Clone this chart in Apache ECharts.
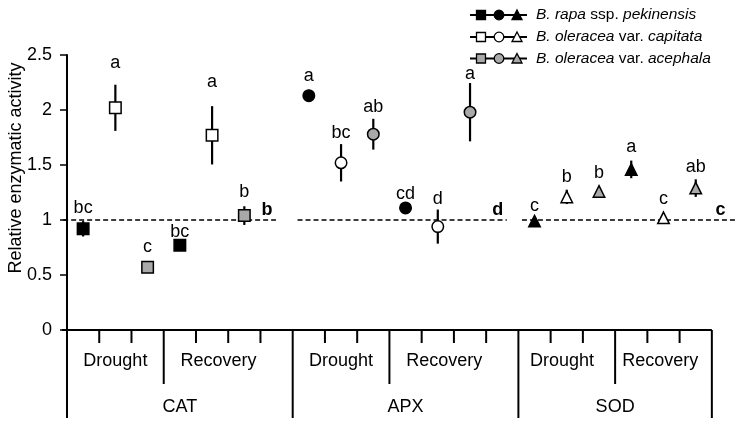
<!DOCTYPE html>
<html>
<head>
<meta charset="utf-8">
<script src="https://cdn.jsdelivr.net/npm/echarts@6/dist/echarts.min.js"></script>
<style>
html,body{margin:0;padding:0;background:#fff;}
#chart{width:737px;height:427px;}
</style>
</head>
<body>
<div id="chart"></div>
<script>
// ---- data ----
const enzymes = ['CAT', 'APX', 'SOD'];
const conditions = ['Drought', 'Recovery'];
const species = ['B. rapa ssp. pekinensis', 'B. oleracea var. capitata', 'B. oleracea var. acephala'];
// group order: CAT-Drought, CAT-Recovery, APX-Drought, APX-Recovery, SOD-Drought, SOD-Recovery
const groupStartSlot = [0, 3, 7, 10, 14, 17];
const rapaMean = [0.92, 0.77, 2.13, 1.11, 0.99, 1.46];
const rapaErr = [0.07, 0.02, 0.055, 0.02, 0.02, 0.08];
const capitataMean = [2.02, 1.77, 1.52, 0.94, 1.21, 1.02];
const capitataErr = [0.21, 0.265, 0.17, 0.155, 0.065, 0.02];
const acephalaMean = [0.57, 1.04, 1.78, 1.98, 1.26, 1.29];
const acephalaErr = [0.02, 0.085, 0.14, 0.265, 0.02, 0.08];
const rapaLetters = ['bc', 'bc', 'a', 'cd', 'c', 'a'];
const capitataLetters = ['a', 'a', 'bc', 'd', 'b', 'c'];
const acephalaLetters = ['c', 'b', 'ab', 'a', 'b', 'ab'];
const rapaLetterAt = [1.11, 0.89, 2.31, 1.24, 1.13, 1.66];
const capitataLetterAt = [2.43, 2.25, 1.79, 1.19, 1.39, 1.19];
const acephalaLetterAt = [0.75, 1.25, 2.03, 2.33, 1.43, 1.48];
const controlLetters = ['b', 'd', 'c'];
const controlLetterSlot = [6.2, 13.36, 20.27];
const controlLineSpans = [[-0.12, 6.48], [7.15, 13.64], [14.11, 20.78]];
const slotTicks = [1, 2, 4, 5, 6, 8, 9, 11, 12, 13, 15, 16, 18, 19];
const conditionDividers = [3, 10, 17];
const enzymeDividers = [0, 7, 14, 20];
const conditionLabelSlot = [1.5, 4.7, 8.5, 11.7, 15.35, 18.4];
const enzymeLabelSlot = [3.5, 10.5, 17.0];
const yTicks = [0, 0.5, 1, 1.5, 2, 2.5];

const FONT = '"Liberation Sans", Arial, Helvetica, sans-serif';
const symbols = ['rect', 'circle', 'triangle'];
const sizes = [11.5, 11.5, 11.5];
const fills = ['#000000', '#ffffff', '#a9a9a9'];

const means = [rapaMean, capitataMean, acephalaMean];
const errs = [rapaErr, capitataErr, acephalaErr];
const letters = [rapaLetters, capitataLetters, acephalaLetters];
const letterAt = [rapaLetterAt, capitataLetterAt, acephalaLetterAt];

const errData = [];
const letterData = [];
const scatterSeries = [];
means.forEach((m, s) => {
  const pts = [];
  m.forEach((v, g) => {
    const x = groupStartSlot[g] + s + 0.5;
    const enz = Math.floor(g / 2);
    errData.push([x, v, errs[s][g]]);
    letterData.push([x, letterAt[s][g], letters[s][g]]);
    pts.push({ value: [x, v], symbol: symbols[enz], symbolSize: sizes[enz] });
  });
  scatterSeries.push({
    type: 'scatter', name: species[s], data: pts, z: 5,
    itemStyle: { color: fills[s], borderColor: '#000', borderWidth: 1.5, opacity: 1 },
    emphasis: { disabled: true }, animation: false
  });
});

// structural line data: [x, 0, kind]  kind 0 tick, 1 condition divider, 2 enzyme divider
const structData = [];
slotTicks.forEach(x => structData.push([x, 0, 0]));
conditionDividers.forEach(x => structData.push([x, 0, 1]));
enzymeDividers.forEach(x => structData.push([x, 0, 2]));

const textData = [];
conditionLabelSlot.forEach((x, i) => textData.push([x, 0, conditions[i % 2], 0]));
enzymeLabelSlot.forEach((x, i) => textData.push([x, 0, enzymes[i], 1]));

const chart = echarts.init(document.getElementById('chart'), null, { renderer: 'canvas' });

function legendRow(y, fill, label) {
  const x0 = 470, x1 = 527;
  return [
    { type: 'line', shape: { x1: x0, y1: y, x2: x1, y2: y }, style: { stroke: '#000', lineWidth: 2 } },
    { type: 'rect', shape: { x: 481 - 4.5, y: y - 4.5, width: 9, height: 9 }, style: { fill: fill, stroke: '#000', lineWidth: 1.3 } },
    { type: 'circle', shape: { cx: 499, cy: y, r: 4.8 }, style: { fill: fill, stroke: '#000', lineWidth: 1.3 } },
    { type: 'polygon', shape: { points: [[517, y - 5], [522, y + 4.5], [512, y + 4.5]] }, style: { fill: fill, stroke: '#000', lineWidth: 1.3 } },
    { type: 'text', x: 536, y: y, style: { text: label, fill: '#000', fontSize: 15.5, fontFamily: FONT, verticalAlign: 'middle', align: 'left',
      rich: { i: { fontStyle: 'italic', fontSize: 15.5, fontFamily: FONT, fill: '#000' }, n: { fontSize: 15.5, fontFamily: FONT, fill: '#000' } } } }
  ];
}

const option = {
  backgroundColor: '#ffffff',
  animation: false,
  grid: { left: 67, right: 0, top: 55, bottom: 97, containLabel: false },
  xAxis: {
    type: 'value', min: 0, max: 20.78,
    axisLine: { show: false }, axisTick: { show: false }, axisLabel: { show: false }, splitLine: { show: false }
  },
  yAxis: {
    type: 'value', min: 0, max: 2.5, interval: 0.5,
    axisLine: { show: true, lineStyle: { color: '#000', width: 2 } },
    axisTick: { show: true, inside: false, length: 7, lineStyle: { color: '#000', width: 1.5 } },
    axisLabel: { color: '#000', fontSize: 18, fontFamily: FONT, margin: 15,
      formatter: v => (yTicks.indexOf(v) >= 0 ? String(v) : '') },
    splitLine: { show: false }
  },
  graphic: [
    { type: 'text', x: 16, y: 168, rotation: Math.PI / 2,
      style: { text: 'Relative enzymatic activity', fill: '#000', fontSize: 18, fontFamily: FONT, align: 'center', verticalAlign: 'middle' } },
    ...legendRow(15, '#000000', '{i|B. rapa}{n| ssp. }{i|pekinensis}'),
    ...legendRow(37, '#ffffff', '{i|B. oleracea}{n| var. }{i|capitata}'),
    ...legendRow(58.5, '#a9a9a9', '{i|B. oleracea}{n| var. }{i|acephala}')
  ],
  series: [
    // control reference lines
    {
      type: 'custom', clip: false, silent: true, z: 1,
      data: controlLineSpans.map(s => [s[0], 1, s[1]]),
      renderItem: (params, api) => {
        const a = api.coord([api.value(0), api.value(1)]);
        const b = api.coord([api.value(2), api.value(1)]);
        return { type: 'line', shape: { x1: a[0], y1: a[1], x2: b[0], y2: b[1] },
          style: { stroke: '#000', lineWidth: 1.4, lineDash: [5, 3] } };
      }
    },
    // control letters
    {
      type: 'custom', clip: false, silent: true, z: 6,
      data: controlLetters.map((t, i) => [controlLetterSlot[i], 1, t]),
      renderItem: (params, api) => {
        const p = api.coord([api.value(0), api.value(1)]);
        return { type: 'text', style: { text: controlLetters[params.dataIndex], x: p[0], y: p[1] - 10,
          fill: '#000', font: 'bold 18px ' + FONT, align: 'center', verticalAlign: 'middle' } };
      }
    },
    // error bars
    {
      type: 'custom', clip: false, silent: true, z: 3,
      data: errData,
      renderItem: (params, api) => {
        const x = api.value(0), m = api.value(1), e = api.value(2);
        const a = api.coord([x, m - e]);
        const b = api.coord([x, m + e]);
        return { type: 'line', shape: { x1: a[0], y1: a[1], x2: b[0], y2: b[1] },
          style: { stroke: '#000', lineWidth: 2.2 } };
      }
    },
    // significance letters
    {
      type: 'custom', clip: false, silent: true, z: 6,
      data: letterData,
      renderItem: (params, api) => {
        const p = api.coord([api.value(0), api.value(1)]);
        return { type: 'text', style: { text: letterData[params.dataIndex][2], x: p[0], y: p[1],
          fill: '#000', font: '18px ' + FONT, align: 'center', verticalAlign: 'middle' } };
      }
    },
    // bottom category structure
    {
      type: 'custom', clip: false, silent: true, z: 2,
      data: structData,
      renderItem: (params, api) => {
        const p = api.coord([api.value(0), 0]);
        const kind = api.value(2);
        const len = kind === 0 ? 13 : (kind === 1 ? 54 : 88);
        const children = [{ type: 'line', shape: { x1: p[0], y1: p[1], x2: p[0], y2: p[1] + len },
          style: { stroke: '#000', lineWidth: 2 } }];
        if (params.dataIndex === 0) {
          const a = api.coord([enzymeDividers[0], 0]);
          const b = api.coord([enzymeDividers[enzymeDividers.length - 1], 0]);
          children.push({ type: 'line', shape: { x1: a[0] - 5, y1: a[1], x2: b[0], y2: b[1] },
            style: { stroke: '#000', lineWidth: 2 } });
        }
        return { type: 'group', children };
      }
    },
    // category labels
    {
      type: 'custom', clip: false, silent: true, z: 2,
      data: textData,
      renderItem: (params, api) => {
        const p = api.coord([api.value(0), 0]);
        const d = textData[params.dataIndex];
        const dy = d[3] === 0 ? 31 : 77;
        return { type: 'text', style: { text: d[2], x: p[0], y: p[1] + dy,
          fill: '#000', font: '18px ' + FONT, align: 'center', verticalAlign: 'middle' } };
      }
    },
    ...scatterSeries
  ]
};
chart.setOption(option);
</script>
</body>
</html>
